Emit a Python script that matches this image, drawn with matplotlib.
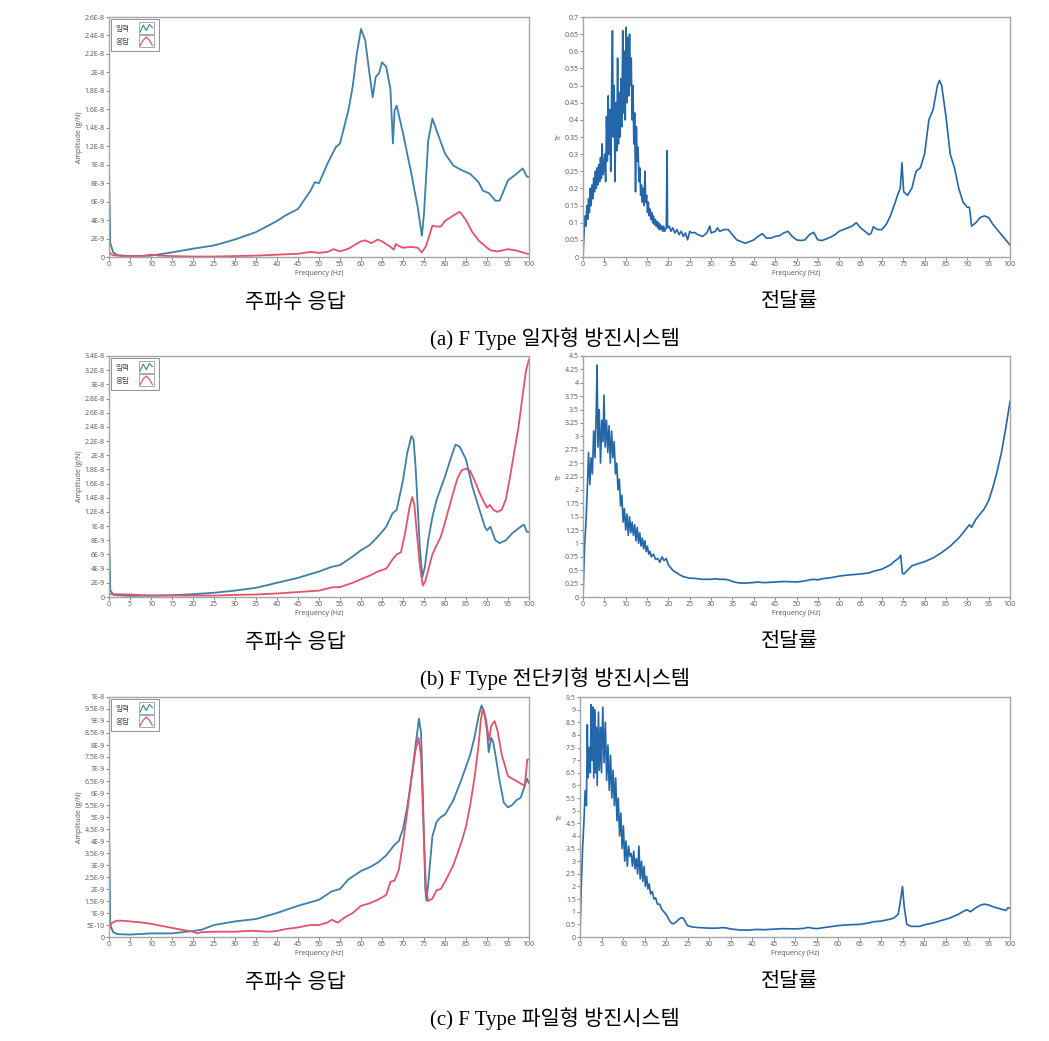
import numpy as np
import matplotlib
matplotlib.use("Agg")
import matplotlib.pyplot as plt
from matplotlib.lines import Line2D
from matplotlib.patches import Rectangle
from matplotlib.legend_handler import HandlerBase
from matplotlib.ticker import FuncFormatter, MultipleLocator

plt.rcParams['font.family'] = ['Open Sans', 'Noto Sans CJK KR', 'DejaVu Sans']

# -----------------------------
# Data
# amplitude values are in units of 1E-9 g/N, columns = [Hz, value]
# -----------------------------
freq_ticks = list(range(0, 101, 5))

# (a) F Type 일자형
amp_a_in = np.array([
    [0, 9.7], [0.3, 1.5], [1, 0.5], [2, 0.2], [5, 0.1], [10, 0.15], [15, 0.5],
    [20, 0.9], [25, 1.25], [30, 1.9], [35, 2.7], [40, 3.9], [42, 4.5], [45, 5.2],
    [48, 7.2], [49, 8.1], [50, 8.0], [52, 10.1], [54, 11.9], [55, 12.3], [57, 15.9],
    [58, 18.4], [59, 22.0], [60, 24.7], [61, 23.5], [62, 19.9], [62.8, 17.3],
    [63.5, 19.5], [64.3, 19.9], [65, 21.1], [66, 20.6], [67, 18.2], [67.6, 12.3],
    [68, 15.9], [68.5, 16.4], [70, 13.4], [72, 9.0], [73.5, 5.4], [74.5, 2.3],
    [75, 4.7], [76, 12.6], [77, 15.0], [78, 13.7], [80, 11.2], [82, 9.9], [84, 9.4],
    [86, 9.0], [88, 8.1], [89, 7.2], [90.5, 6.9], [92, 6.1], [93, 6.1], [95, 8.3],
    [97, 9.0], [98.5, 9.6], [99.5, 8.7], [100, 8.7]])
amp_a_out = np.array([
    [0, 0.6], [0.5, 0.3], [1, 0.2], [3, 0.1], [5, 0.05], [8, 0.1], [10, 0.25],
    [12, 0.15], [15, 0.1], [20, 0.05], [25, 0.05], [30, 0.1], [35, 0.15], [40, 0.25],
    [45, 0.35], [48, 0.55], [50, 0.45], [52, 0.55], [53.5, 0.85], [55, 0.6], [57, 0.9],
    [60, 1.7], [61, 1.8], [62.5, 1.5], [64, 1.9], [65, 1.7], [67, 1.1], [67.8, 0.8],
    [68.3, 1.4], [69, 1.2], [70, 1.0], [72, 1.1], [73.5, 1.0], [74.5, 0.5], [75.5, 1.2],
    [77, 3.4], [78, 3.3], [79, 3.3], [80, 3.9], [82, 4.5], [83.5, 4.9], [85, 4.0],
    [86.5, 2.7], [88, 1.8], [90, 1.0], [91, 0.7], [92.5, 0.6], [95, 0.85], [97, 0.7],
    [100, 0.3]])
tr_a = np.array([
    [0.0, 0.0], [0.3, 0.08], [0.5, 0.12], [0.7, 0.09], [0.9, 0.15], [1.1, 0.11],
    [1.3, 0.17], [1.5, 0.13], [1.7, 0.2], [1.9, 0.15], [2.1, 0.21], [2.3, 0.17],
    [2.5, 0.23], [2.7, 0.19], [2.9, 0.25], [3.1, 0.2], [3.3, 0.26], [3.5, 0.21],
    [3.7, 0.27], [3.9, 0.22], [4.1, 0.29], [4.3, 0.23], [4.5, 0.33], [4.7, 0.24],
    [4.9, 0.26], [5.1, 0.3], [5.3, 0.22], [5.5, 0.41], [5.7, 0.28], [5.9, 0.47],
    [6.1, 0.3], [6.3, 0.43], [6.5, 0.25], [6.7, 0.49], [6.9, 0.66], [7.1, 0.35],
    [7.3, 0.5], [7.5, 0.22], [7.7, 0.45], [7.9, 0.31], [8.1, 0.58], [8.3, 0.33],
    [8.5, 0.48], [8.7, 0.35], [8.9, 0.52], [9.1, 0.38], [9.3, 0.66], [9.5, 0.42],
    [9.7, 0.6], [9.9, 0.4], [10.1, 0.67], [10.3, 0.45], [10.5, 0.64], [10.7, 0.47],
    [10.9, 0.65], [11.1, 0.5], [11.3, 0.58], [11.5, 0.4], [11.7, 0.5], [11.9, 0.33],
    [12.1, 0.42], [12.3, 0.19], [12.5, 0.38], [12.7, 0.28], [12.9, 0.32], [13.1, 0.22],
    [13.3, 0.26], [13.5, 0.18], [13.7, 0.21], [13.9, 0.16], [14.1, 0.2], [14.3, 0.15],
    [14.5, 0.25], [14.7, 0.16], [14.9, 0.18], [15.1, 0.13], [15.3, 0.16], [15.5, 0.12],
    [15.7, 0.14], [15.9, 0.11], [16.1, 0.13], [16.3, 0.1], [16.5, 0.12], [16.7, 0.095],
    [16.9, 0.11], [17.1, 0.09], [17.3, 0.105], [17.5, 0.085], [17.7, 0.1], [17.9, 0.08],
    [18.1, 0.095], [18.3, 0.08], [18.5, 0.09], [18.7, 0.075], [18.9, 0.09], [19.1, 0.075],
    [19.5, 0.085], [19.7, 0.31], [19.8, 0.085], [20.2, 0.09], [20.6, 0.075], [21, 0.085],
    [21.5, 0.07], [22, 0.08], [22.5, 0.065], [23, 0.075], [23.5, 0.06], [24, 0.07],
    [24.5, 0.05], [25, 0.075], [25.5, 0.07], [26, 0.072], [27, 0.065], [28, 0.06],
    [29, 0.07], [29.7, 0.09], [30, 0.07], [31, 0.075], [31.5, 0.085], [32, 0.075],
    [33, 0.08], [34, 0.08], [35, 0.065], [36, 0.05], [37, 0.045], [38, 0.04], [39, 0.045],
    [40, 0.05], [41, 0.06], [42, 0.068], [43, 0.055], [44, 0.055], [45, 0.06],
    [46, 0.062], [47, 0.07], [48, 0.075], [49, 0.06], [50, 0.05], [51, 0.048], [52, 0.05],
    [53, 0.065], [54, 0.072], [55, 0.05], [56, 0.048], [57, 0.053], [58, 0.058],
    [59, 0.065], [60, 0.075], [61, 0.08], [62, 0.085], [63, 0.09], [64, 0.1], [65, 0.085],
    [66, 0.075], [67, 0.065], [67.5, 0.07], [68, 0.088], [69, 0.08], [70, 0.08],
    [71, 0.095], [72, 0.12], [73, 0.155], [73.8, 0.185], [74.3, 0.2], [74.7, 0.275],
    [75.1, 0.19], [76, 0.18], [77, 0.2], [78, 0.25], [79, 0.26], [80, 0.3], [81, 0.4],
    [82, 0.43], [83, 0.5], [83.5, 0.515], [84, 0.5], [85, 0.41], [86, 0.3], [87, 0.26],
    [88, 0.2], [89, 0.16], [90, 0.145], [90.5, 0.145], [91, 0.09], [92, 0.1], [93, 0.115],
    [94, 0.12], [95, 0.115], [96, 0.095], [97, 0.08], [98, 0.065], [99, 0.05], [100, 0.035]])

# (b) F Type 전단키형
amp_b_in = np.array([
    [0, 9.9], [0.3, 1.0], [1, 0.3], [5, 0.15], [10, 0.2], [15, 0.25], [20, 0.4],
    [25, 0.6], [30, 0.9], [35, 1.3], [40, 2.0], [45, 2.7], [50, 3.6], [53, 4.25],
    [55, 4.5], [58, 5.7], [60, 6.6], [62, 7.3], [64, 8.5], [66, 9.9], [67.5, 11.8],
    [68.5, 12.3], [70, 16.5], [71, 20.3], [72, 22.7], [72.5, 22.2], [73, 18.4],
    [73.5, 12.7], [74, 7.1], [74.6, 2.8], [75.2, 4.2], [76, 8.0], [77, 11.3], [78, 13.7],
    [80, 17.0], [81.5, 19.8], [82.5, 21.5], [83.5, 21.2], [85, 19.4], [86.5, 15.6],
    [88, 12.7], [89.5, 9.9], [90, 9.4], [90.8, 9.9], [92, 8.0], [93, 7.6], [94.5, 8.0],
    [96, 9.0], [98, 9.9], [98.8, 10.2], [99.5, 9.2], [100, 9.2]])
amp_b_out = np.array([
    [0, 0.4], [5, 0.35], [10, 0.2], [15, 0.2], [20, 0.2], [25, 0.2], [30, 0.3],
    [35, 0.35], [40, 0.5], [45, 0.7], [50, 0.9], [53, 1.35], [55, 1.4], [58, 2.0],
    [60, 2.5], [62, 3.0], [64, 3.6], [66, 4.0], [67.5, 5.3], [68.5, 6.0], [69.5, 6.3],
    [70.5, 9.0], [71.5, 12.5], [72.2, 14.1], [72.7, 13.0], [73.3, 9.0], [74, 4.5],
    [74.7, 1.6], [75.3, 2.2], [76, 3.8], [77, 6.0], [78, 7.3], [79, 8.5], [80, 10.5],
    [81, 12.7], [82, 14.8], [83, 16.8], [84, 17.9], [85, 18.1], [86, 17.8], [87, 16.5],
    [88, 15.0], [89, 13.7], [90, 12.6], [90.7, 13.0], [91.5, 12.3], [92.5, 12.0],
    [93.5, 12.3], [94.5, 13.8], [95.5, 17.0], [96.5, 20.5], [97.5, 24.0], [98.5, 28.5],
    [99.3, 32.0], [100, 33.5]])
tr_b = np.array([
    [0, 0], [0.4, 1.0], [0.7, 1.4], [1.0, 2.0], [1.3, 2.7], [1.6, 2.1], [1.9, 2.6],
    [2.2, 2.3], [2.5, 3.1], [2.8, 2.6], [3.1, 3.5], [3.3, 4.33], [3.5, 2.8], [3.8, 3.5],
    [4.1, 2.5], [4.4, 3.3], [4.7, 2.9], [4.9, 3.77], [5.2, 2.8], [5.5, 3.3], [5.8, 2.7],
    [6.1, 3.2], [6.4, 2.5], [6.7, 3.1], [7.0, 2.6], [7.3, 2.9], [7.6, 2.3], [7.9, 2.5],
    [8.2, 2.0], [8.5, 2.2], [8.8, 1.7], [9.1, 1.9], [9.4, 1.4], [9.7, 1.65], [10.0, 1.25],
    [10.3, 1.55], [10.6, 1.15], [10.9, 1.5], [11.2, 1.2], [11.5, 1.4], [11.8, 1.15],
    [12.1, 1.35], [12.4, 1.05], [12.7, 1.3], [13.0, 1.0], [13.3, 1.2], [13.6, 0.95],
    [13.9, 1.1], [14.2, 0.9], [14.5, 1.05], [14.8, 0.85], [15.1, 0.95], [15.4, 0.8],
    [15.7, 0.85], [16, 0.75], [16.5, 0.8], [17, 0.7], [17.5, 0.72], [18, 0.65],
    [18.5, 0.75], [19, 0.68], [19.5, 0.72], [20, 0.6], [20.5, 0.55], [21, 0.5],
    [21.5, 0.47], [22, 0.45], [22.5, 0.42], [23, 0.4], [23.5, 0.38], [24, 0.37],
    [24.5, 0.36], [25, 0.35], [26, 0.35], [27, 0.34], [28, 0.33], [30, 0.33], [31, 0.34],
    [32, 0.33], [33, 0.33], [34, 0.32], [35, 0.29], [36, 0.27], [37, 0.26], [38, 0.26],
    [40, 0.27], [41, 0.28], [42, 0.27], [43, 0.27], [45, 0.28], [47, 0.29], [50, 0.28],
    [52, 0.3], [53, 0.32], [54, 0.33], [55, 0.32], [56, 0.34], [58, 0.36], [60, 0.39],
    [62, 0.41], [65, 0.43], [67, 0.45], [68, 0.48], [70, 0.52], [72, 0.6], [73, 0.67],
    [74, 0.73], [74.4, 0.78], [74.8, 0.44], [75.2, 0.43], [76, 0.5], [77, 0.58],
    [78, 0.61], [80, 0.66], [82, 0.73], [84, 0.83], [86, 0.95], [88, 1.1], [89, 1.2],
    [90, 1.3], [90.5, 1.35], [91, 1.3], [92, 1.45], [93, 1.55], [94, 1.65], [95, 1.8],
    [96, 2.05], [97, 2.35], [98, 2.7], [99, 3.15], [100, 3.65]])

# (c) F Type 파일형
amp_c_in = np.array([
    [0, 5.0], [0.3, 0.5], [1, 0.2], [2, 0.12], [5, 0.1], [10, 0.15], [15, 0.15],
    [20, 0.25], [22, 0.3], [25, 0.5], [30, 0.65], [35, 0.75], [40, 1.0], [45, 1.3],
    [50, 1.55], [53, 1.9], [55, 2.0], [57, 2.4], [60, 2.75], [62, 2.9], [64, 3.1],
    [66, 3.4], [68, 3.85], [69, 4.0], [70, 4.5], [71, 5.4], [72, 6.6], [73, 8.0],
    [73.8, 9.1], [74.3, 8.5], [74.8, 5.5], [75.3, 2.0], [75.6, 1.5], [76, 2.2],
    [77, 4.2], [78, 4.8], [79, 5.0], [80, 5.1], [82, 5.7], [84, 6.6], [86, 7.6],
    [87, 8.3], [88, 9.2], [88.7, 9.65], [89.3, 9.4], [90, 8.6], [90.4, 7.7], [91, 8.3],
    [91.5, 8.1], [92, 7.6], [93, 6.5], [94, 5.6], [95, 5.4], [96, 5.5], [97, 5.7],
    [98, 5.8], [99, 6.3], [99.5, 6.6], [100, 6.4]])
amp_c_out = np.array([
    [0, 0.3], [0.5, 0.55], [1, 0.62], [2, 0.68], [3, 0.68], [5, 0.65], [8, 0.6],
    [10, 0.55], [12, 0.48], [15, 0.38], [18, 0.28], [20, 0.22], [21, 0.15], [22, 0.2],
    [25, 0.22], [30, 0.22], [34, 0.26], [38, 0.22], [40, 0.25], [42, 0.33], [45, 0.4],
    [48, 0.5], [50, 0.5], [52, 0.6], [53, 0.72], [54.5, 0.6], [56, 0.8], [58, 1.0],
    [60, 1.3], [62, 1.4], [64, 1.55], [66, 1.75], [67, 2.3], [68, 2.35], [69, 2.8],
    [70, 3.9], [71, 5.2], [72, 6.6], [73, 7.8], [73.7, 8.3], [74.3, 7.5], [75, 4.0],
    [75.5, 2.0], [76, 1.5], [77, 1.6], [78, 1.95], [79, 2.0], [80, 2.3], [82, 3.0],
    [84, 4.0], [85, 4.6], [86, 5.5], [87, 6.6], [88, 8.0], [88.5, 9.0], [89, 9.5],
    [89.7, 9.1], [90.5, 8.2], [91, 8.8], [91.8, 9.0], [92.5, 8.6], [93.5, 7.6],
    [95, 6.7], [96, 6.6], [97, 6.5], [98, 6.4], [99, 6.3], [99.6, 7.4], [100, 7.4]])
tr_c = np.array([
    [0, 0], [0.3, 2.0], [0.6, 3.5], [0.9, 4.5], [1.2, 5.8], [1.5, 5.2], [1.7, 8.4],
    [1.9, 6.3], [2.2, 7.5], [2.4, 6.5], [2.6, 9.2], [2.8, 7.0], [3.0, 9.1], [3.2, 6.3],
    [3.4, 9.0], [3.6, 6.5], [3.8, 8.3], [4.0, 6.0], [4.3, 8.9], [4.5, 6.6], [4.8, 8.3],
    [5.0, 6.5], [5.3, 9.1], [5.6, 6.9], [5.9, 8.5], [6.2, 6.2], [6.5, 7.6], [6.8, 5.8],
    [7.1, 7.2], [7.4, 5.5], [7.7, 6.6], [8.0, 5.2], [8.3, 6.3], [8.6, 4.6], [8.9, 5.5],
    [9.2, 4.0], [9.5, 4.9], [9.8, 3.5], [10.1, 4.4], [10.4, 3.0], [10.7, 3.8],
    [11.0, 2.8], [11.3, 3.6], [11.6, 3.2], [11.9, 3.3], [12.2, 2.8], [12.5, 3.4],
    [12.8, 2.7], [13.1, 3.1], [13.4, 2.5], [13.7, 3.6], [14.0, 2.3], [14.3, 3.0],
    [14.6, 2.2], [14.9, 2.8], [15.2, 2.0], [15.5, 2.4], [15.8, 1.9], [16.1, 2.1],
    [16.4, 1.7], [16.8, 1.8], [17.2, 1.5], [17.6, 1.55], [18.0, 1.3], [18.5, 1.3],
    [19, 1.1], [19.5, 1.0], [20, 0.9], [20.5, 0.75], [21, 0.6], [21.5, 0.52], [22, 0.55],
    [22.5, 0.62], [23, 0.7], [23.5, 0.76], [24, 0.75], [24.5, 0.6], [25, 0.45],
    [26, 0.4], [27, 0.38], [28, 0.37], [30, 0.35], [32, 0.35], [33, 0.37], [34, 0.36],
    [35, 0.32], [37, 0.28], [39, 0.27], [41, 0.3], [43, 0.29], [45, 0.31], [47, 0.33],
    [50, 0.32], [52, 0.34], [53, 0.38], [54, 0.35], [55, 0.33], [57, 0.38], [60, 0.45],
    [62, 0.48], [65, 0.5], [67, 0.55], [68, 0.6], [70, 0.63], [72, 0.7], [73, 0.75],
    [74, 0.9], [74.5, 1.4], [75, 2.0], [75.4, 1.2], [76, 0.5], [77, 0.42], [78, 0.42],
    [79, 0.42], [80, 0.48], [82, 0.55], [84, 0.65], [86, 0.75], [88, 0.9], [89, 1.0],
    [90, 1.08], [90.8, 1.0], [92, 1.15], [93, 1.25], [94, 1.3], [95, 1.27], [96, 1.2],
    [97, 1.15], [98, 1.1], [99, 1.05], [99.5, 1.15], [100, 1.15]])

legend_labels = ['입력', '응답']
captions = ['(a) F Type 일자형 방진시스템',
            '(b) F Type 전단키형 방진시스템',
            '(c) F Type 파일형 방진시스템']
left_caption = '주파수 응답'
right_caption = '전달률'

# -----------------------------
# Styling
# -----------------------------
BLUE = '#3e7ea8'
RED = '#e2536a'
TR_BLUE = '#2467a8'
GRAY = '#a5a5a5'
W, H = 1049, 1041


def rect(x0, x1, y0, y1):
    return [x0 / W, 1 - y1 / H, (x1 - x0) / W, (y1 - y0) / H]


def amp_fmt(v, pos):
    if abs(v) < 1e-15:
        return '0'
    m, e = f'{v:.6E}'.split('E')
    return f'{float(m):g}E{int(e)}'


class IconHandler(HandlerBase):
    """small boxed line glyph like the LabVIEW plot legend"""
    def __init__(self, xs, ys):
        super().__init__()
        self.xs, self.ys = np.array(xs), np.array(ys)

    def create_artists(self, legend, orig_handle, xdescent, ydescent,
                       width, height, fontsize, trans):
        box = Rectangle((-xdescent, -ydescent - 1), width, height + 2, fill=False,
                        ec='#8fa0aa', lw=0.6, transform=trans)
        line = Line2D(-xdescent + width * self.xs, -ydescent - 1 + (height + 2) * self.ys,
                      color=orig_handle.get_color(), lw=0.9, transform=trans)
        return [box, line]


def style_axes(ax, ymax, ystep, fmt):
    ax.set_xlim(0, 100)
    ax.set_ylim(0, ymax)
    ax.set_xticks(freq_ticks)
    ax.yaxis.set_major_locator(MultipleLocator(ystep))
    ax.yaxis.set_major_formatter(FuncFormatter(fmt))
    ax.tick_params(axis='both', labelsize=5, colors='#555555', length=2, width=0.5,
                   pad=1)
    for s in ax.spines.values():
        s.set_color(GRAY)
        s.set_linewidth(1.0)
    ax.set_xlabel('Frequency (Hz)', fontsize=5, color='#555555', labelpad=1.5)


def draw_amp(ax, a_in, a_out, ymax, ystep):
    ax.plot(a_in[:, 0], a_in[:, 1] * 1e-9, color=BLUE, lw=1.3)
    ax.plot(a_out[:, 0], a_out[:, 1] * 1e-9, color=RED, lw=1.3)
    style_axes(ax, ymax * 1e-9, ystep * 1e-9, amp_fmt)
    ax.set_ylabel('Amplitude (g/N)', fontsize=5, color='#555555', labelpad=1)
    h_in = Line2D([], [], color='#4d8fa0')
    h_out = Line2D([], [], color=RED)
    leg = ax.legend([h_in, h_out], legend_labels, loc='upper left', markerfirst=False,
                    handler_map={h_in: IconHandler([0.1, 0.3, 0.5, 0.7, 0.9],
                                                   [0.2, 0.75, 0.3, 0.8, 0.55]),
                                 h_out: IconHandler([0.1, 0.3, 0.5, 0.7, 0.9],
                                                    [0.15, 0.6, 0.85, 0.6, 0.15])},
                    fontsize=5.5, handlelength=2.0, handleheight=1.5, handletextpad=1.2,
                    labelspacing=0.5, borderaxespad=0.25, borderpad=0.6,
                    fancybox=False, framealpha=1)
    leg.get_frame().set_edgecolor('#7f7f7f')
    leg.get_frame().set_linewidth(0.6)
    for t in leg.get_texts():
        t.set_color('#444444')


def draw_tr(ax, tr, ymax, ystep):
    ax.plot(tr[:, 0], tr[:, 1], color=TR_BLUE, lw=1.2)
    style_axes(ax, ymax, ystep, lambda v, p: f'{v:g}')
    ax.set_ylabel('Tr', fontsize=5, color='#555555', labelpad=1)


fig = plt.figure(figsize=(W / 100, H / 100), dpi=100)

rows = [
    (amp_a_in, amp_a_out, 26, 2, tr_a, 0.7, 0.05, 17, 257, 583),
    (amp_b_in, amp_b_out, 34, 2, tr_b, 4.5, 0.25, 356, 597, 583),
    (amp_c_in, amp_c_out, 10, 0.5, tr_c, 9.5, 0.5, 697, 937, 580),
]

for i, (a_in, a_out, amax, astep, tr, tmax, tstep, top, bot, rx) in enumerate(rows):
    axl = fig.add_axes(rect(109, 529, top, bot))
    draw_amp(axl, a_in, a_out, amax, astep)
    axr = fig.add_axes(rect(rx, 1010, top, bot))
    draw_tr(axr, tr, tmax, tstep)

    cap_font = ['Liberation Serif', 'Noto Sans CJK KR']
    fig.text(295 / W, 1 - (bot + 46) / H, left_caption, ha='center', va='center',
             fontsize=15, family=cap_font)
    fig.text(790 / W, 1 - (bot + 46) / H, right_caption, ha='center', va='center',
             fontsize=15, family=cap_font)
    fig.text(555 / W, 1 - (bot + 82) / H, captions[i], ha='center', va='center',
             fontsize=15, family=cap_font)

fig.savefig('out.png', dpi=100, facecolor='white')
